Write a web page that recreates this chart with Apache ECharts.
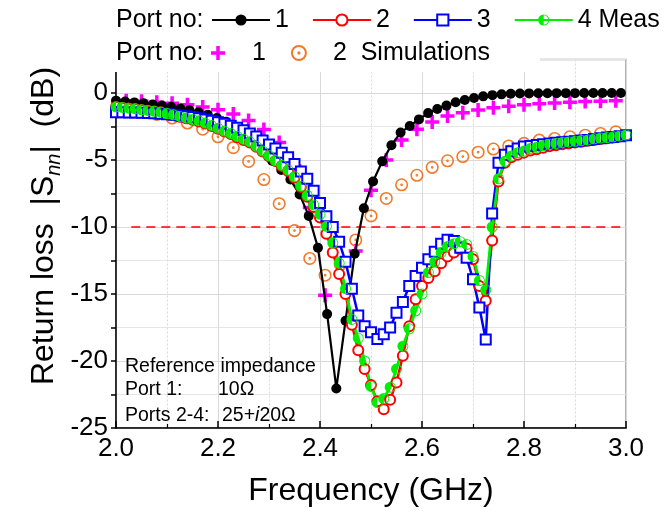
<!DOCTYPE html>
<html><head><meta charset="utf-8">
<script src="https://cdn.jsdelivr.net/npm/echarts@6/dist/echarts.min.js"></script>
<style>html,body{margin:0;padding:0;background:#fff}#c{width:670px;height:512px}</style>
</head><body><div id="c"></div>
<script>
const FONT = '"Liberation Sans", Arial, sans-serif';

// Port 1 measured
const freqMeas1 = [2.000,2.018,2.036,2.054,2.072,2.090,2.108,2.126,2.144,2.162,2.180,2.198,2.216,2.234,2.252,2.270,2.288,2.306,2.324,2.342,2.360,2.378,2.396,2.414,2.432,2.450,2.468,2.486,2.504,2.522,2.540,2.558,2.576,2.594,2.612,2.630,2.648,2.666,2.684,2.702,2.720,2.738,2.756,2.774,2.792,2.810,2.828,2.846,2.864,2.882,2.900,2.918,2.936,2.954,2.972,2.990];
const port1Meas = [-0.57,-0.63,-0.70,-0.77,-0.85,-0.93,-1.03,-1.15,-1.28,-1.43,
  -1.62,-1.87,-2.15,-2.55,-3.05,-3.70,-4.35,-5.05,-5.75,-6.46,
  -7.57,-9.17,-11.55,-16.5,-22.05,-17.0,-12.0,-8.6,-6.6,-5.1,
  -3.9,-2.95,-2.46,-1.97,-1.50,-1.20,-0.94,-0.69,-0.52,-0.37,
  -0.25,-0.16,-0.10,-0.06,-0.04,-0.03,-0.02,-0.02,-0.01,-0.01,
  -0.01,0.00,0.00,0.00,0.00,0.00];

// Ports 2-4 measured
const freqMeas = [2.0,2.0125,2.025,2.0375,2.05,2.0625,2.075,2.0875,2.1,2.1125,2.125,2.1375,2.15,2.1625,2.175,2.1875,2.2,2.2125,2.225,2.2375,2.25,2.2625,2.275,2.2875,2.3,2.3125,2.325,2.3375,2.35,2.3625,2.375,2.3875,2.4,2.4125,2.425,2.4375,2.45,2.4625,2.475,2.4875,2.5,2.5125,2.525,2.5375,2.55,2.5625,2.575,2.5875,2.6,2.6125,2.625,2.6375,2.65,2.6625,2.675,2.6875,2.7,2.7125,2.725,2.7375,2.75,2.7625,2.775,2.7875,2.8,2.8125,2.825,2.8375,2.85,2.8625,2.875,2.8875,2.9,2.9125,2.925,2.9375,2.95,2.9625,2.975,2.9875,3.0];
const port2Meas = [-1.05,-1.10,-1.15,-1.20,-1.26,-1.32,-1.38,-1.44,-1.54,-1.65,
  -1.77,-1.88,-2.00,-2.12,-2.28,-2.46,-2.66,-2.87,-3.06,-3.30,
  -3.50,-3.70,-4.02,-4.36,-4.72,-5.08,-5.45,-5.82,-6.32,-7.02,
  -7.75,-8.5,-9.3,-10.5,-11.9,-13.5,-15.0,-17.3,-19.2,-20.6,
  -21.8,-23.0,-23.6,-22.9,-21.6,-19.6,-17.4,-15.4,-14.4,-13.8,
  -13.3,-12.7,-12.2,-11.9,-11.65,-11.6,-12.4,-14.4,-15.5,-11.0,
  -6.6,-5.2,-4.8,-4.6,-4.45,-4.3,-4.2,-4.08,-3.98,-3.9,
  -3.83,-3.76,-3.7,-3.64,-3.57,-3.5,-3.43,-3.38,-3.32,-3.25,-3.18];
const port3Meas = [-1.43,-1.44,-1.45,-1.46,-1.48,-1.50,-1.52,-1.55,-1.58,-1.62,
  -1.67,-1.73,-1.80,-1.88,-1.97,-2.07,-2.18,-2.30,-2.45,-2.60,
  -2.78,-3.02,-3.25,-3.55,-3.85,-4.15,-4.45,-4.80,-5.30,-5.85,
  -6.40,-7.30,-8.20,-9.20,-10.0,-11.1,-12.6,-14.6,-16.6,-17.4,
  -17.85,-18.35,-18.0,-17.5,-16.4,-15.6,-14.4,-13.65,-13.05,-12.4,
  -11.85,-11.25,-10.95,-11.05,-11.55,-12.3,-13.9,-16.0,-18.4,-9.0,
  -5.2,-4.6,-4.35,-4.15,-4.0,-3.95,-3.88,-3.82,-3.76,-3.72,
  -3.68,-3.64,-3.60,-3.55,-3.50,-3.43,-3.37,-3.33,-3.28,-3.22,-3.16];
const port4Meas = [-1.03,-1.08,-1.13,-1.18,-1.25,-1.30,-1.37,-1.42,-1.53,-1.63,
  -1.75,-1.86,-1.97,-2.08,-2.24,-2.43,-2.63,-2.84,-3.02,-3.24,
  -3.45,-3.64,-3.98,-4.33,-4.68,-5.04,-5.40,-5.75,-6.25,-6.95,
  -7.65,-8.35,-9.05,-9.95,-11.2,-12.7,-14.6,-16.9,-18.3,-20.0,
  -21.9,-23.1,-22.8,-21.95,-20.6,-18.9,-17.6,-16.25,-15.0,-13.4,
  -12.6,-11.9,-11.45,-11.25,-11.1,-11.3,-12.2,-14.0,-14.7,-10.0,
  -6.4,-5.1,-4.7,-4.45,-4.33,-4.15,-4.05,-3.93,-3.84,-3.77,
  -3.70,-3.65,-3.60,-3.55,-3.50,-3.42,-3.36,-3.32,-3.27,-3.20,-3.13];

// Simulations
const freqSim = [2.02,2.05,2.08,2.11,2.14,2.17,2.20,2.23,2.26,2.29,2.32,2.35,2.38,2.41,2.44,2.47,2.50,2.53,2.56,2.59,2.62,2.65,2.68,2.71,2.74,2.77,2.80,2.83,2.86,2.89,2.92,2.95,2.98];
const port1Sim = [-0.57,-0.61,-0.69,-0.76,-0.88,-1.05,-1.25,-1.57,-2.05,-2.73,-3.70,-5.45,-8.55,-15.1,null,-11.8,-7.25,-5.0,-3.5,-2.7,-2.16,-1.72,-1.47,-1.27,-1.10,-0.99,-0.88,-0.81,-0.74,-0.69,-0.64,-0.61,-0.57];
const port2Sim = [-1.23,-1.38,-1.60,-1.87,-2.24,-2.70,-3.27,-4.08,-5.11,-6.46,-8.26,-10.27,-12.35,-13.6,-12.8,-10.97,-9.17,-7.87,-6.85,-6.14,-5.55,-5.06,-4.74,-4.42,-4.18,-3.95,-3.76,-3.52,-3.39,-3.27,-3.15,-3.02,-2.90];

// -10 dB reference
const refLineFreq = [2.03, 2.99];
const refLineDb = [-10, -10];

const legendNames = {m1:'1', m2:'2', m3:'3', m4:'4 Meas', s1:'1', s2:'2  Simulations'};

function zip(xs, ys){ const out=[]; xs.forEach((x,i)=>{ if(ys[i]!==null && ys[i]!==undefined) out.push([x, ys[i]]); }); return out; }

const PLUS = 'path://M3 0 H5 V3 H8 V5 H5 V8 H3 V5 H0 V3 H3 Z';
const RING_DOT = 'path://M10 0 A10 10 0 1 1 9.99 0 Z M10 9 A1 1 0 1 1 9.99 9 Z';
const HALF = 'path://M10 0 A10 10 0 0 0 10 20 Z M10 0 A10 10 0 0 1 10 20 L10 18.4 A8.4 8.4 0 0 0 10 1.6 Z';

const chart = echarts.init(document.getElementById('c'), null, {renderer:'canvas'});
const axisFont = {fontFamily: FONT, fontSize: 26, color: '#000'};

chart.setOption({
  animation: false,
  backgroundColor: '#fff',
  grid: {left: 116, right: 44, top: 59.5, bottom: 78, show: true, borderColor: '#9a9a9a', borderWidth: 1.5, backgroundColor: 'transparent'},
  xAxis: {
    type: 'value', min: 2.0, max: 3.0, interval: 0.2,
    axisLine: {show: true, onZero: false, lineStyle: {color: '#000', width: 1.5}},
    axisTick: {show: true, inside: true, length: 7, lineStyle: {color: '#000', width: 1.5}},
    minorTick: {show: true, splitNumber: 2, length: 4, lineStyle: {color: '#000', width: 1.2}},
    axisLabel: {...axisFont, margin: 8, formatter: v => v.toFixed(1)},
    splitLine: {show: true, lineStyle: {color: '#d9d9d9', width: 1}},
    minorSplitLine: {show: true, lineStyle: {color: '#d9d9d9', width: 1, type: [2, 2]}},
    name: 'Frequency (GHz)', nameLocation: 'middle', nameGap: 47,
    nameTextStyle: {fontFamily: FONT, fontSize: 32, color: '#000'}
  },
  yAxis: {
    type: 'value', min: -25, max: 2.5, interval: 2.5,
    axisLine: {show: true, onZero: false, lineStyle: {color: '#000', width: 1.5}},
    axisTick: {show: true, inside: false, length: 5, lineStyle: {color: '#000', width: 1.5}},
    axisLabel: {...axisFont, margin: 8, formatter: v => (Math.abs(v % 5) < 1e-9 && v <= 0) ? String(v) : ''},
    splitLine: {show: true, lineStyle: {color: ['#d9d9d9', '#e6e6e6'], width: 1}}
  },
  legend: [
    {data: ['m1','m2','m3','m4'], left: 211, top: 7, padding: 0, itemWidth: 58, itemHeight: 14, itemGap: 23, z: 100,
     formatter: n => legendNames[n], textStyle: {fontFamily: FONT, fontSize: 25, color: '#000', lineHeight: 26}},
    {data: ['s1','s2'], left: 211, top: 40, padding: 0, itemWidth: 58, itemHeight: 14, itemGap: 25, z: 100,
     formatter: n => legendNames[n], textStyle: {fontFamily: FONT, fontSize: 25, color: '#000', lineHeight: 26}}
  ],
  graphic: [
    {type: 'rect', z: 50, shape: {x: 106, y: 36, width: 434, height: 36}, style: {fill: '#fff'}},
    {type: 'text', z: 60, x: 116, y: 20, style: {text: 'Port no:', font: '25px ' + FONT, fill: '#000', verticalAlign: 'middle'}},
    {type: 'text', z: 60, x: 116, y: 53, style: {text: 'Port no:', font: '25px ' + FONT, fill: '#000', verticalAlign: 'middle'}},
    {type: 'text', z: 60, x: 125, y: 367, style: {text: 'Reference impedance', font: '19.5px ' + FONT, fill: '#000', verticalAlign: 'middle'}},
    {type: 'text', z: 60, x: 125, y: 390, style: {text: 'Port 1:', font: '19.5px ' + FONT, fill: '#000', verticalAlign: 'middle'}},
    {type: 'text', z: 60, x: 218, y: 390, style: {text: '10Ω', font: '19.5px ' + FONT, fill: '#000', verticalAlign: 'middle'}},
    {type: 'text', z: 60, x: 125, y: 416, style: {text: 'Ports 2-4:', font: '19.5px ' + FONT, fill: '#000', verticalAlign: 'middle'}},
    {type: 'text', z: 60, x: 222, y: 416, style: {text: '{r|25+}{i|i}{r|20Ω}', verticalAlign: 'middle',
      rich: {r: {fontFamily: FONT, fontSize: 19.5, fill: '#000'}, i: {fontFamily: FONT, fontSize: 19.5, fontStyle: 'italic', fill: '#000'}}}},
    {type: 'text', z: 60, x: 44, y: 226, rotation: Math.PI / 2,
      style: {text: '{a|Return loss  |S}{b|nn}{a||  (dB)}', align: 'center', verticalAlign: 'middle',
        rich: {a: {fontFamily: FONT, fontSize: 32, fill: '#000', lineHeight: 40, verticalAlign: 'middle'},
               b: {fontFamily: FONT, fontSize: 20, fontStyle: 'italic', fill: '#000', lineHeight: 18, verticalAlign: 'bottom'}}}}
  ],
  series: [
    {name: 'ref', type: 'line', data: zip(refLineFreq, refLineDb), symbol: 'none', silent: true,
     lineStyle: {color: '#ff0000', width: 1.6, type: [9, 6]}, z: 1},
    {name: 'm1', type: 'line', data: zip(freqMeas1, port1Meas), symbol: 'circle', symbolSize: 10,
     itemStyle: {color: '#000'}, lineStyle: {color: '#000', width: 2.2}},
    {name: 'm2', type: 'line', data: zip(freqMeas, port2Meas), symbol: 'emptyCircle', symbolSize: 10,
     itemStyle: {color: '#ff0000', borderWidth: 1.5}, lineStyle: {color: '#ff0000', width: 2.5}},
    {name: 'm3', type: 'line', data: zip(freqMeas, port3Meas), symbol: 'emptyRect', symbolSize: 10,
     itemStyle: {color: '#0000ff', borderWidth: 1.8}, lineStyle: {color: '#0000ff', width: 2.5}},
    {name: 'm4', type: 'line', data: zip(freqMeas, port4Meas), symbol: HALF, symbolSize: 11,
     itemStyle: {color: '#00ee00'}, lineStyle: {color: '#00ee00', width: 2.8}},
    {name: 's1', type: 'scatter', data: zip(freqSim, port1Sim), symbol: PLUS, symbolSize: 14,
     itemStyle: {color: '#ff00ff', opacity: 1}},
    {name: 's2', type: 'scatter', data: zip(freqSim, port2Sim), symbol: RING_DOT, symbolSize: 11.5,
     itemStyle: {color: 'rgba(255,255,255,0)', borderColor: '#f07a2a', borderWidth: 1.6, opacity: 1}}
  ]
});
</script>
</body></html>
